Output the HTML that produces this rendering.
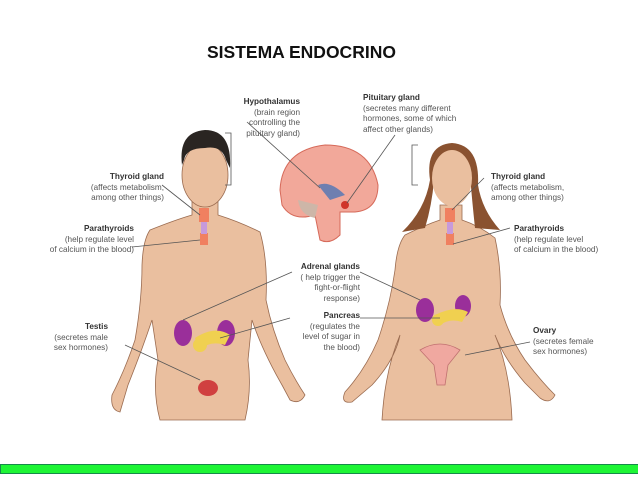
<!DOCTYPE html>
<html><head><meta charset="utf-8"><style>
body{margin:0;width:638px;height:479px;background:#fff;overflow:hidden;position:relative;font-family:"Liberation Sans",sans-serif}
.t{position:absolute;font-size:8.2px;line-height:10.5px;color:#555}
.t b{color:#333}
.r{text-align:right}
</style></head><body>
<div style="position:absolute;left:207px;top:42px;font-size:17.5px;font-weight:bold;color:#111">SISTEMA ENDOCRINO</div>
<svg width="638" height="479" style="position:absolute;left:0;top:0">
<g fill="#eabf9f" stroke="#9a6b50" stroke-width="0.8">
<path d="M150 230 Q175 220 192 215 L192 200 L218 200 L218 215 Q240 222 260 232 Q268 260 266 300 Q272 330 285 360 Q295 380 305 395 Q300 405 290 400 L282 385 Q262 350 252 320 L248 360 Q252 390 245 420 L160 420 Q152 390 158 360 L152 320 Q142 350 128 385 L120 412 Q110 410 112 395 Q125 370 135 340 Q142 300 142 265 Q143 240 150 230Z"/>
<ellipse cx="205" cy="175" rx="23" ry="32"/>
<path d="M405 235 Q425 225 440 220 L440 205 L462 205 L462 220 Q480 226 495 238 Q502 270 500 305 Q508 335 525 360 Q540 380 555 395 Q550 405 540 398 L525 383 Q505 360 495 335 Q510 370 512 420 L382 420 Q385 370 400 335 Q395 360 372 385 L352 402 Q340 404 345 392 Q365 370 378 340 Q390 305 395 270 Q397 245 405 235Z"/>
</g>
<path d="M182 165 Q178 132 205 130 Q232 130 230 168 L226 160 Q222 145 205 148 Q186 148 184 160Z" fill="#2a2522"/>
<path d="M430 180 Q425 145 452 143 Q480 145 478 185 Q482 210 500 230 L475 228 Q472 200 470 175 Q465 158 452 160 Q436 160 434 180 Q432 205 425 228 L402 232 Q425 210 430 180Z" fill="#8a5230"/>
<ellipse cx="452" cy="178" rx="20" ry="28" fill="#eabf9f"/>
<path d="M280 190 Q282 150 325 145 Q370 145 378 185 Q378 210 355 212 L340 212 L340 235 Q330 245 320 240 L315 215 Q292 222 282 205Z" fill="#f2a89a" stroke="#d66a5a"/>
<path d="M298 200 Q300 215 315 218 L318 205Z" fill="#cdb6a8"/>
<path d="M318 185 Q330 180 345 195 L330 200Z" fill="#6f7fb0"/>
<circle cx="345" cy="205" r="4" fill="#d0352a"/>
<g fill="#f08060"><rect x="199" y="208" width="10" height="14"/><rect x="200" y="233" width="8" height="12"/>
<rect x="445" y="208" width="10" height="14"/><rect x="446" y="233" width="8" height="12"/></g>
<rect x="201" y="222" width="6" height="12" fill="#c79adb"/><rect x="447" y="222" width="6" height="12" fill="#c79adb"/>
<g fill="#9a2f9a"><ellipse cx="183" cy="333" rx="9" ry="13"/><ellipse cx="226" cy="333" rx="9" ry="13"/>
<ellipse cx="425" cy="310" rx="9" ry="12"/><ellipse cx="463" cy="306" rx="8" ry="11"/></g>
<g fill="#f0d050"><path d="M195 338 Q215 325 230 335 L225 345 Q210 340 200 350Z"/><circle cx="200" cy="345" r="7"/>
<path d="M435 315 Q455 305 468 312 L462 322 Q450 318 440 325Z"/><circle cx="438" cy="320" r="6"/></g>
<ellipse cx="208" cy="388" rx="10" ry="8" fill="#d04040"/>
<path d="M420 350 Q440 338 460 350 L448 365 L445 385 L437 385 L434 365Z" fill="#f0a8a0" stroke="#c07070" stroke-width="0.8"/>
<g stroke="#555" stroke-width="0.8" fill="none">
<path d="M162 185 L200 215"/><path d="M132 247 L200 240"/><path d="M247 122 L320 188"/>
<path d="M395 135 L347 203"/><path d="M292 272 L183 320"/><path d="M360 272 L420 300"/>
<path d="M290 318 L220 338"/><path d="M360 318 L440 318"/><path d="M125 345 L200 380"/>
<path d="M530 342 L465 355"/><path d="M484 178 L452 210"/><path d="M510 228 L453 244"/>
<path d="M225 133 h6 v52 h-6"/><path d="M418 145 h-6 v40 h6"/>
</g>
<rect x="0.5" y="464.5" width="638" height="9" fill="#1ef535" stroke="#168a4a"/>
</svg>
<div class="t r" style="left:200px;top:97px;width:100px"><b>Hypothalamus</b><br>(brain region<br>controlling the<br>pituitary gland)</div>
<div class="t" style="left:363px;top:93px;width:120px"><b>Pituitary gland</b><br>(secretes many different<br>hormones, some of which<br>affect other glands)</div>
<div class="t r" style="left:60px;top:172px;width:104px"><b>Thyroid gland</b><br>(affects metabolism,<br>among other things)</div>
<div class="t r" style="left:30px;top:224px;width:104px"><b>Parathyroids</b><br>(help regulate level<br>of calcium in the blood)</div>
<div class="t r" style="left:250px;top:262px;width:110px"><b>Adrenal glands</b><br>( help trigger the<br>fight-or-flight<br>response)</div>
<div class="t r" style="left:270px;top:311px;width:90px"><b>Pancreas</b><br>(regulates the<br>level of sugar in<br>the blood)</div>
<div class="t r" style="left:30px;top:322px;width:78px"><b>Testis</b><br>(secretes male<br>sex hormones)</div>
<div class="t" style="left:491px;top:172px;width:110px"><b>Thyroid gland</b><br>(affects metabolism,<br>among other things)</div>
<div class="t" style="left:514px;top:224px;width:110px"><b>Parathyroids</b><br>(help regulate level<br>of calcium in the blood)</div>
<div class="t" style="left:533px;top:326px;width:90px"><b>Ovary</b><br>(secretes female<br>sex hormones)</div>
</body></html>
